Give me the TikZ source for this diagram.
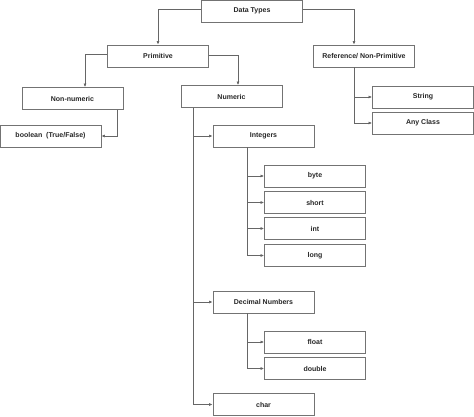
\documentclass[tikz,border=0pt]{standalone}
\usepackage{fontspec}
\setmainfont{Liberation Sans}
\usetikzlibrary{arrows.meta}

\tikzset{
	box/.style={draw=black!55, line width=0.8pt, rectangle, minimum width=101pt, minimum height=22pt, inner sep=0pt, text=black!85, font=\fontsize{7}{8}\selectfont\bfseries},
	link/.style={draw=black!60, line width=0.65pt, -{Latex[length=3.5pt,width=3pt,fill=black!85]}}
}

\begin{document}
\begin{tikzpicture}[x=1pt, y=-1pt]
	\useasboundingbox (0,0) rectangle (474,417);

	\node[box] (T) at (252,11) {Data Types};
	\node[box] (P) at (158,56) {Primitive};
	\node[box] (R) at (364,56) {Reference/ Non-Primitive};
	\node[box] (NN) at (72.5,98.5) {Non-numeric};
	\node[box] (N) at (231.5,96.5) {Numeric};
	\node[box] (S) at (423,97) {String};
	\node[box] (AC) at (423,123) {Any Class};
	\node[box] (BL) at (50.5,136) {boolean~ (True/False)};
	\node[box] (I) at (263.5,136) {Integers};
	\node[box] (BY) at (315,176) {byte};
	\node[box] (SH) at (315,202.5) {short};
	\node[box] (IN) at (315,228.5) {int};
	\node[box] (LO) at (315,255.5) {long};
	\node[box] (D) at (263.5,302) {Decimal Numbers};
	\node[box] (FL) at (315,342) {float};
	\node[box] (DB) at (315,368.5) {double};
	\node[box] (CH) at (263.5,404.5) {char};

	\draw[link] ([yshift=2pt]T.west) -| (P.north);
	\draw[link] ([yshift=2pt]T.east) -| ([xshift=-10pt]R.north);

	\draw[link] ([yshift=2pt]P.west) -| ([xshift=12.5pt]NN.north);
	\draw[link] ([yshift=1pt]P.east) -| ([xshift=6.5pt]N.north);
	\draw[link] ([xshift=44.5pt]NN.south) |- (BL.east);

	\draw[link] ([xshift=-10pt]R.south) |- (S.west);
	\draw[link] ([xshift=-10pt]R.south) |- (AC.west);

	\foreach \k in {I,D,CH}
		\draw[link] ([xshift=-38.5pt]N.south) |- (\k.west);
	\foreach \k in {BY,SH,IN,LO}
		\draw[link] ([xshift=-16.5pt]I.south) |- (\k.west);
	\foreach \k in {FL,DB}
		\draw[link] ([xshift=-16.5pt]D.south) |- (\k.west);
\end{tikzpicture}
\end{document}
